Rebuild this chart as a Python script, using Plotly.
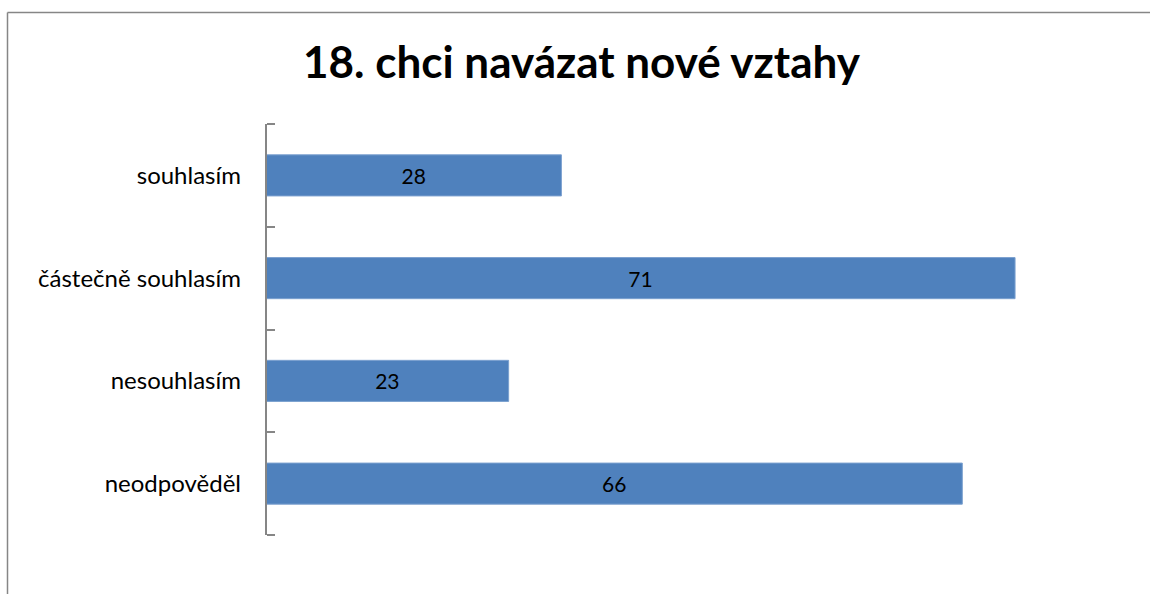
import plotly.graph_objects as go

categories = ["souhlasím", "částečně souhlasím", "nesouhlasím", "neodpověděl"]
values = [28, 71, 23, 66]
title_text = "18. chci navázat nové vztahy"

W, H = 1150, 594
L, R, T, B = 266, 40, 124, 59
pw = W - L - R
ph = H - T - B
n = len(categories)

fig = go.Figure(go.Bar(
    y=categories, x=values, orientation="h",
    marker=dict(color="#4F81BD", line=dict(color="#7BA0CF", width=1)),
    text=[str(v) for v in values], textposition="inside",
    insidetextanchor="middle",
    textfont=dict(family="Lato", size=21, color="#000000"),
    hoverinfo="skip",
))
# invisible trace on a linear overlay axis to draw boundary ticks incl. both ends
fig.add_trace(go.Scatter(x=[None], y=[None], yaxis="y2", showlegend=False, hoverinfo="skip"))

# chart border (left and top edges visible)
bx = (7.5 - L) / pw
by = (H - B - 12.5) / ph
fig.add_shape(type="line", xref="paper", yref="paper", x0=bx, x1=2, y0=by, y1=by,
              line=dict(color="#868686", width=1.5))
fig.add_shape(type="line", xref="paper", yref="paper", x0=bx, x1=bx, y0=by, y1=-1,
              line=dict(color="#868686", width=1.5))

fig.update_layout(
    width=W, height=H,
    margin=dict(l=L, r=R, t=T, b=B, pad=0),
    paper_bgcolor="white", plot_bgcolor="white",
    showlegend=False,
    bargap=0.6,
    title=dict(text="<b>" + title_text + "</b>", xref="container", yref="container",
               x=581.5 / W, xanchor="center", y=1 - 63 / H, yanchor="middle",
               font=dict(family="Lato", size=44, color="#000000")),
    xaxis=dict(range=[0, 80], visible=False, fixedrange=True),
    yaxis=dict(categoryorder="array", categoryarray=categories,
               range=[n - 0.5, -0.5], showline=False, ticks="",
               showgrid=False, zeroline=False, fixedrange=True,
               ticklabelstandoff=24,
               tickfont=dict(family="Lato", size=24, color="#000000")),
    yaxis2=dict(overlaying="y", side="right", anchor="free", position=0,
                type="linear", range=[n - 0.5, -0.5],
                tickvals=[i - 0.5 for i in range(n + 1)],
                showticklabels=False, showline=True, linecolor="#868686", linewidth=1.5,
                ticks="outside", ticklen=8, tickcolor="#868686", tickwidth=1.5,
                showgrid=False, zeroline=False, fixedrange=True),
)

fig.write_html("out.html", config={"displayModeBar": False},
               post_script="document.body.style.margin='0';document.body.style.overflow='hidden';")
